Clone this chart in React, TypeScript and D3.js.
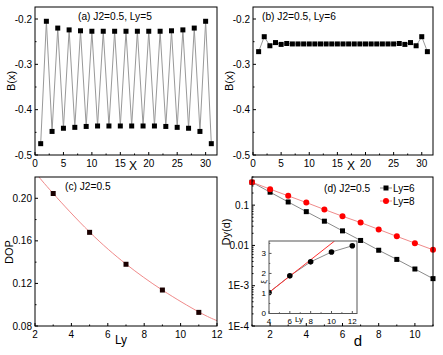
import React from "react";
import * as d3 from "d3";

// ---------- data ----------
const xSites = [1,2,3,4,5,6,7,8,9,10,11,12,13,14,15,16,17,18,19,20,21,22,23,24,25,26,27,28,29,30,31];
const bLy5 = [-0.475,-0.205,-0.448,-0.220,-0.441,-0.224,-0.439,-0.226,-0.437,-0.227,-0.436,-0.227,-0.436,-0.227,-0.436,-0.227,-0.436,-0.227,-0.436,-0.227,-0.436,-0.227,-0.437,-0.226,-0.439,-0.224,-0.441,-0.220,-0.448,-0.205,-0.475];
const bLy6 = [-0.272,-0.239,-0.259,-0.252,-0.256,-0.254,-0.255,-0.255,-0.255,-0.255,-0.255,-0.255,-0.255,-0.255,-0.255,-0.255,-0.255,-0.255,-0.255,-0.255,-0.255,-0.255,-0.255,-0.255,-0.255,-0.254,-0.256,-0.252,-0.259,-0.239,-0.272];

const lyDop = [3,5,7,9,11];
const dopVals = [0.2045,0.168,0.138,0.1138,0.0928];
const fitLy = [2,3,5,7,9,11,12];
const fitDop = [0.2245,0.2045,0.1683,0.1382,0.1137,0.0932,0.0850];

const dVals = [1,2,3,4,5,6,7,8,9,10,11];
const dyLy6 = [0.37,0.21,0.12,0.069,0.040,0.023,0.0133,0.0076,0.0045,0.0026,0.0015];
const dyLy8 = [0.37,0.25,0.17,0.116,0.078,0.053,0.037,0.025,0.0168,0.0114,0.0078];

const insetLy = [4,6,8,10,12];
const insetXi = [1.05,1.88,2.58,3.07,3.38];
const insetFitLy = [4,10.3];
const insetFitXi = [1.05,3.62];

const xTicksAB = [0,5,10,15,20,25,30];
const yTicksAB = [-0.2,-0.3,-0.4,-0.5];
const yTickLabelsAB = ["-0.2","-0.3","-0.4","-0.5"];
const xTicksC = [2,4,6,8,10,12];
const yTicksC = [0.08,0.12,0.16,0.20];
const yTickLabelsC = ["0.08","0.12","0.16","0.20"];
const xTicksD = [2,4,6,8,10];
const yTicksD = [0.1,0.01,0.001,0.0001];
const yTickLabelsD = ["0.1","0.01","1E-3","1E-4"];
const xTicksIn = [4,6,8,10,12];
const yTicksIn = [0,1,2,3];

const FONT = "Liberation Sans, Arial, sans-serif";

type Box = { l: number; r: number; t: number; b: number };

function Frame({ box, sx, sy, xMajor, xMinor, xLabels, yMajor, yMinor, yLabels, fs = 10, tl = 3, stroke = "#000" }: any) {
  return (
    <g>
      <rect x={box.l} y={box.t} width={box.r - box.l} height={box.b - box.t} fill="none" stroke={stroke} strokeWidth={1} />
      {xMajor.map((v: number, i: number) => (
        <g key={"xm" + i}>
          <line x1={sx(v)} x2={sx(v)} y1={box.b} y2={box.b - tl} stroke={stroke} />
          <text x={sx(v)} y={box.b + fs + 2} fontSize={fs} textAnchor="middle" fontFamily={FONT}>{xLabels ? xLabels[i] : String(v)}</text>
        </g>
      ))}
      {xMinor.map((v: number, i: number) => (
        <line key={"xn" + i} x1={sx(v)} x2={sx(v)} y1={box.b} y2={box.b - tl / 2} stroke={stroke} />
      ))}
      {yMajor.map((v: number, i: number) => (
        <g key={"ym" + i}>
          <line x1={box.l} x2={box.l + tl} y1={sy(v)} y2={sy(v)} stroke={stroke} />
          <text x={box.l - 3} y={sy(v) + fs * 0.35} fontSize={fs} textAnchor="end" fontFamily={FONT}>{yLabels ? yLabels[i] : String(v)}</text>
        </g>
      ))}
      {yMinor.map((v: number, i: number) => (
        <line key={"yn" + i} x1={box.l} x2={box.l + tl / 2} y1={sy(v)} y2={sy(v)} stroke={stroke} />
      ))}
    </g>
  );
}

function Squares({ xs, ys, sx, sy, size = 5, fill = "#000" }: any) {
  return (
    <g>
      {xs.map((x: number, i: number) => (
        <rect key={i} x={sx(x) - size / 2} y={sy(ys[i]) - size / 2} width={size} height={size} fill={fill} />
      ))}
    </g>
  );
}

export default function App() {
  const boxA: Box = { l: 35, r: 217, t: 7, b: 155 };
  const boxB: Box = { l: 253, r: 433, t: 7, b: 155 };
  const boxC: Box = { l: 35, r: 217, t: 177, b: 326 };
  const boxD: Box = { l: 252, r: 433, t: 177, b: 326 };
  const boxI: Box = { l: 269, r: 357, t: 241, b: 313.5 };

  const sxA = d3.scaleLinear().domain([0, 32]).range([boxA.l, boxA.r]);
  const syA = d3.scaleLinear().domain([-0.5, -0.1735]).range([boxA.b, boxA.t]);
  const sxB = d3.scaleLinear().domain([0, 32]).range([boxB.l, boxB.r]);
  const syB = d3.scaleLinear().domain([-0.5, -0.1735]).range([boxB.b, boxB.t]);
  const sxC = d3.scaleLinear().domain([2, 12]).range([boxC.l, boxC.r]);
  const syC = d3.scaleLinear().domain([0.08, 0.22]).range([boxC.b, boxC.t]);
  const sxD = d3.scaleLinear().domain([1, 11]).range([boxD.l, boxD.r]);
  const syD = d3.scaleLog().domain([1e-4, 0.5]).range([boxD.b, boxD.t]);
  const sxI = d3.scaleLinear().domain([4, 12.45]).range([boxI.l, boxI.r]);
  const syI = d3.scaleLinear().domain([0, 3.62]).range([boxI.b, boxI.t]);

  const lineA = d3.line<number>().x((_, i) => sxA(xSites[i])).y((v) => syA(v));
  const lineB = d3.line<number>().x((_, i) => sxB(xSites[i])).y((v) => syB(v));
  const fitC = d3.line<number>().x((_, i) => sxC(fitLy[i])).y((v) => syC(v)).curve(d3.curveNatural);
  const lineD6 = d3.line<number>().x((_, i) => sxD(dVals[i])).y((v) => syD(v));
  const lineD8 = d3.line<number>().x((_, i) => sxD(dVals[i])).y((v) => syD(v));
  const lineI = d3.line<number>().x((_, i) => sxI(insetLy[i])).y((v) => syI(v));
  const fitI = d3.line<number>().x((_, i) => sxI(insetFitLy[i])).y((v) => syI(v));

  const minorAB = [2.5,7.5,12.5,17.5,22.5,27.5];
  const yMinorAB = [-0.25,-0.35,-0.45];
  const logMinor: number[] = [];
  [1e-4, 1e-3, 1e-2, 1e-1].forEach((dec) => [2,3,4,5,6,7,8,9].forEach((m) => { if (dec * m <= 0.5) logMinor.push(dec * m); }));

  return (
    <svg width={443} height={355} style={{ position: "absolute", left: 0, top: 0, background: "#fff" }} fontFamily={FONT}>
      <defs>
        <clipPath id="clipC"><rect x={boxC.l} y={boxC.t} width={boxC.r - boxC.l} height={boxC.b - boxC.t} /></clipPath>
        <clipPath id="clipI"><rect x={boxI.l} y={boxI.t} width={boxI.r - boxI.l} height={boxI.b - boxI.t} /></clipPath>
      </defs>

      {/* (a) */}
      <path d={lineA(bLy5) || ""} fill="none" stroke="#999" strokeWidth={1} />
      <Squares xs={xSites} ys={bLy5} sx={sxA} sy={syA} size={5} />
      <Frame box={boxA} sx={sxA} sy={syA} xMajor={xTicksAB} xMinor={minorAB} yMajor={yTicksAB} yMinor={yMinorAB} yLabels={yTickLabelsAB} />
      <text x={78} y={20} fontSize={10.2}>(a) J2=0.5, Ly=5</text>
      <text x={133} y={170} fontSize={12} textAnchor="middle">X</text>
      <text transform="translate(15,81) rotate(-90)" fontSize={11} textAnchor="middle">B(x)</text>

      {/* (b) */}
      <path d={lineB(bLy6) || ""} fill="none" stroke="#999" strokeWidth={1} />
      <Squares xs={xSites} ys={bLy6} sx={sxB} sy={syB} size={5} />
      <Frame box={boxB} sx={sxB} sy={syB} xMajor={xTicksAB} xMinor={minorAB} yMajor={yTicksAB} yMinor={yMinorAB} yLabels={yTickLabelsAB} />
      <text x={262} y={20} fontSize={10.2}>(b) J2=0.5, Ly=6</text>
      <text x={351} y={170} fontSize={12} textAnchor="middle">X</text>
      <text transform="translate(233,81) rotate(-90)" fontSize={11} textAnchor="middle">B(x)</text>

      {/* (c) */}
      <path d={fitC(fitDop) || ""} fill="none" stroke="#f08a8a" strokeWidth={1} clipPath="url(#clipC)" />
      <Squares xs={lyDop} ys={dopVals} sx={sxC} sy={syC} size={5} fill="#1a0000" />
      <Frame box={boxC} sx={sxC} sy={syC} xMajor={xTicksC} xMinor={[3,5,7,9,11]} yMajor={yTicksC} yMinor={[0.10,0.14,0.18]} yLabels={yTickLabelsC} />
      <text x={65} y={190} fontSize={10.2}>(c) J2=0.5</text>
      <text x={121} y={344} fontSize={12} textAnchor="middle">Ly</text>
      <text transform="translate(13,252) rotate(-90)" fontSize={11} textAnchor="middle">DOP</text>

      {/* (d) */}
      <path d={lineD6(dyLy6) || ""} fill="none" stroke="#8a8a8a" strokeWidth={1} />
      <path d={lineD8(dyLy8) || ""} fill="none" stroke="#f08a8a" strokeWidth={1} />
      <Squares xs={dVals} ys={dyLy6} sx={sxD} sy={syD} size={5} />
      {dVals.map((d, i) => (
        <circle key={i} cx={sxD(d)} cy={syD(dyLy8[i])} r={3} fill="#ff0000" />
      ))}
      <Frame box={boxD} sx={sxD} sy={syD} xMajor={xTicksD} xMinor={[1,3,5,7,9,11]} yMajor={yTicksD} yMinor={logMinor} yLabels={yTickLabelsD} />
      <text x={324} y={192} fontSize={10.2}>(d) J2=0.5</text>
      <text x={358} y={346} fontSize={15} textAnchor="middle">d</text>
      <text transform="translate(230,232) rotate(-90)" fontSize={11} textAnchor="middle">Dy(d)</text>

      {/* legend */}
      <line x1={380} x2={392} y1={188} y2={188} stroke="#8a8a8a" />
      <rect x={383.5} y={185.5} width={5} height={5} fill="#000" />
      <text x={393} y={191.5} fontSize={10}>Ly=6</text>
      <line x1={380} x2={392} y1={201} y2={201} stroke="#f08a8a" />
      <circle cx={386} cy={201} r={3} fill="#ff0000" />
      <text x={393} y={204.5} fontSize={10}>Ly=8</text>

      {/* inset */}
      <rect x={boxI.l} y={boxI.t} width={boxI.r - boxI.l} height={boxI.b - boxI.t} fill="#fff" />
      <path d={lineI(insetXi) || ""} fill="none" stroke="#8a8a8a" strokeWidth={1} clipPath="url(#clipI)" />
      <path d={fitI(insetFitXi) || ""} fill="none" stroke="#ff3030" strokeWidth={1} clipPath="url(#clipI)" />
      <g clipPath="url(#clipI)">
        {insetLy.map((l, i) => (
          <circle key={i} cx={sxI(l)} cy={syI(insetXi[i])} r={2.8} fill="#000" />
        ))}
      </g>
      <Frame box={boxI} sx={sxI} sy={syI} xMajor={xTicksIn} xMinor={[5,7,9,11]} yMajor={yTicksIn} yMinor={[0.5,1.5,2.5,3.5]} fs={8} tl={2.5} stroke="#555" />
      <text x={299} y={321.5} fontSize={8} textAnchor="middle">Ly</text>
      <text transform="translate(266,282) rotate(-90)" fontSize={8} textAnchor="middle">ξ</text>
    </svg>
  );
}
